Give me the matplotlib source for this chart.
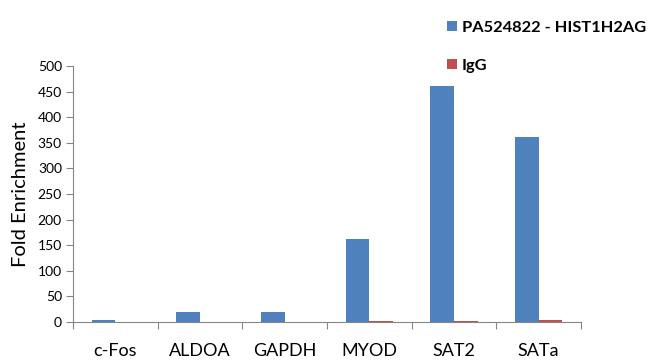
import matplotlib
matplotlib.use("Agg")
import matplotlib.pyplot as plt
import numpy as np

categories = ["c-Fos", "ALDOA", "GAPDH", "MYOD", "SAT2", "SATa"]
series_names = ["PA524822 - HIST1H2AG", "IgG"]
pa_values = [4, 19, 19, 163, 460, 362]
igg_values = [0.5, 0.5, 0.5, 2, 2, 3]
y_ticks = [0, 50, 100, 150, 200, 250, 300, 350, 400, 450, 500]

plt.rcParams['font.family'] = ['Lato', 'DejaVu Sans']

fig = plt.figure(figsize=(6.5, 3.64), dpi=100)
ax = fig.add_axes([73/650, 1-322/364, (581-73)/650, (322-66)/364])

x = np.arange(len(categories))
w = 0.28
ax.bar(x - w/2, pa_values, w, color="#4F81BD", label=series_names[0])
ax.bar(x + w/2, igg_values, w, color="#C0504D", label=series_names[1])

ax.set_xlim(-0.5, len(categories) - 0.5)
ax.set_ylim(0, 500)
ax.set_yticks(y_ticks)
ax.set_xticks(x)
ax.set_xticklabels(categories, fontsize=13)
ax.tick_params(axis='x', length=0, pad=15)
ax.set_xticks(np.arange(len(categories) + 1) - 0.5, minor=True)
ax.tick_params(axis='x', which='minor', length=5, color="#868686", width=0.8)
ax.tick_params(axis='y', length=5, color="#868686", width=0.8, labelsize=10, pad=3)

for s in ["top", "right"]:
    ax.spines[s].set_visible(False)
for s in ["left", "bottom"]:
    ax.spines[s].set_color("#868686")
    ax.spines[s].set_linewidth(0.8)

ax.set_ylabel("Fold Enrichment", fontsize=14.5, labelpad=6)

leg = fig.legend(loc="upper left", bbox_to_anchor=(432/650, 1-6/364), frameon=False,
                 handlelength=0.62, handleheight=0.62, handletextpad=0.3,
                 labelspacing=1.45, prop={'weight': 'bold', 'size': 11.8})

fig.savefig("out.png", dpi=100)
